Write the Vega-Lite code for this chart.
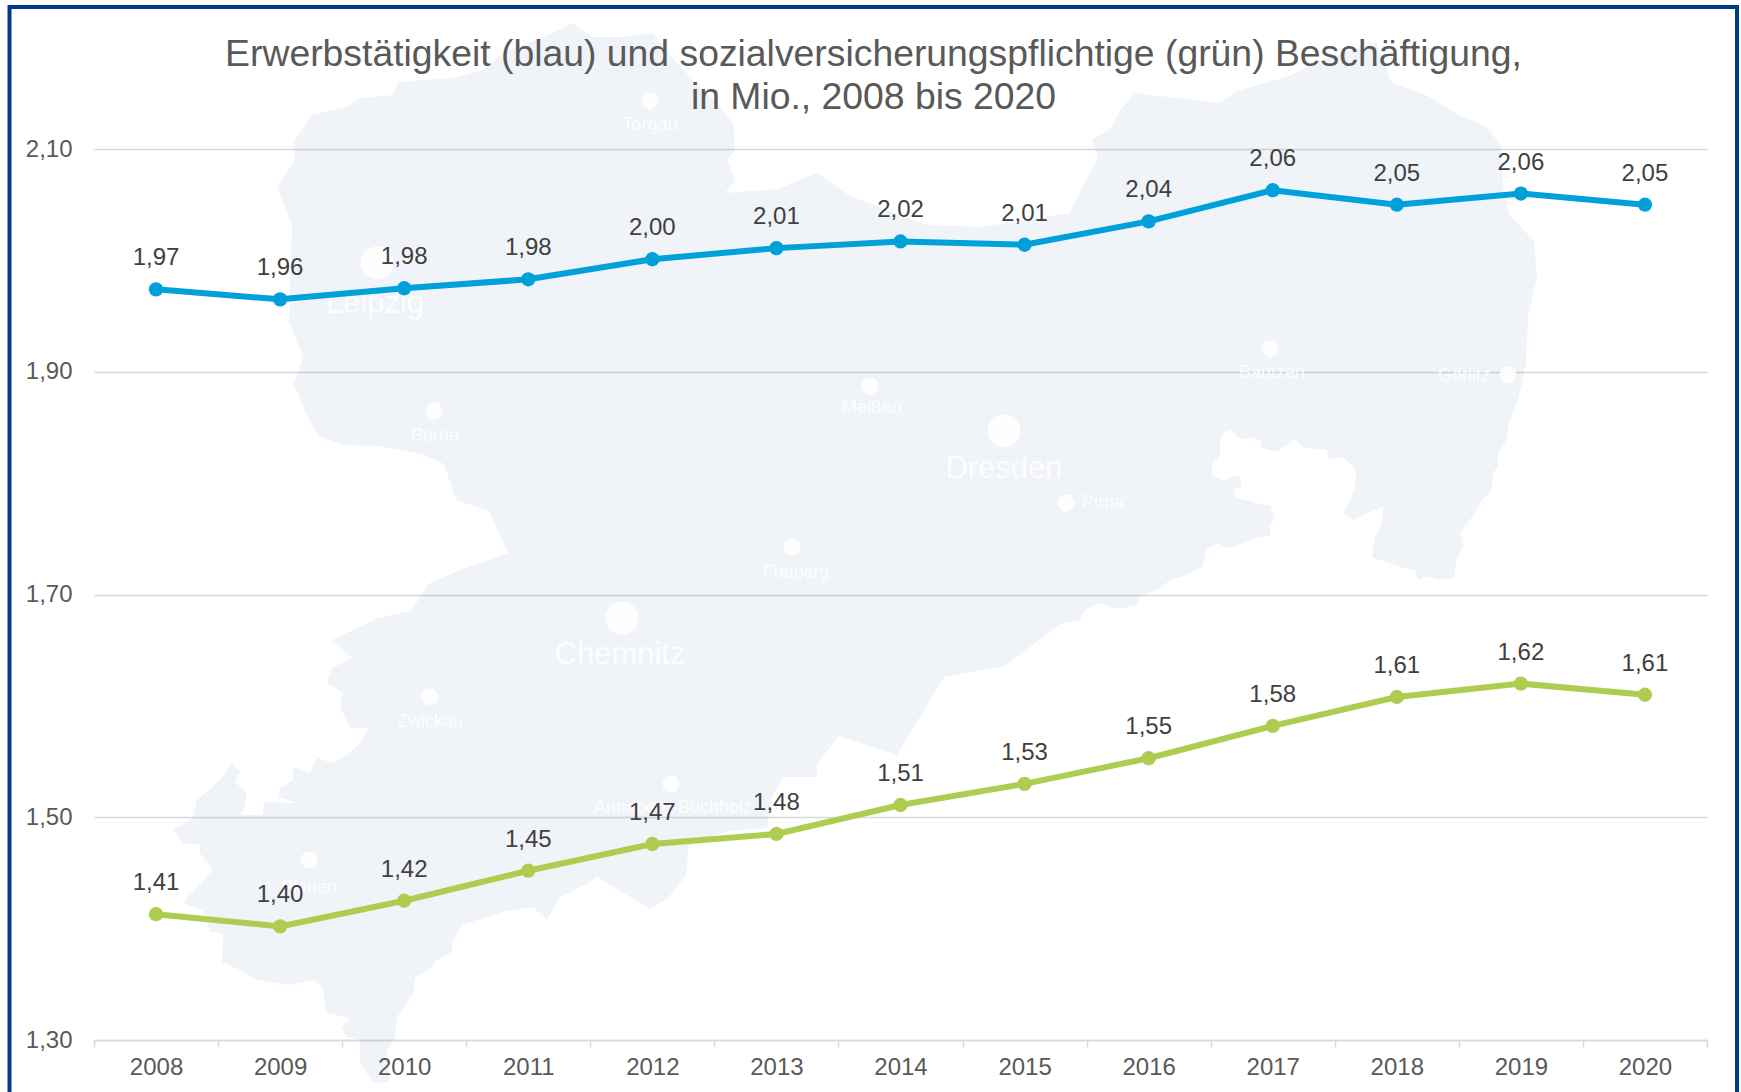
{"$schema":"https://vega.github.io/schema/vega-lite/v6.json","width":1613,"height":891,"autosize":{"type":"none"},"padding":{"left":94,"top":149,"right":34,"bottom":52},"background":"#ffffff","config":{"view":{"stroke":null},"font":"Liberation Sans"},"title":{"text":["Erwerbstätigkeit (blau) und sozialversicherungspflichtige (grün) Beschäftigung,","in Mio., 2008 bis 2020"],"font":"Liberation Sans","fontSize":37.35,"fontWeight":"normal","color":"#595959","lineHeight":43,"anchor":"middle","dx":-27,"dy":150,"offset":39},"datasets":{"umriss":[{"i":1,"mx":277,"my":187},{"i":2,"mx":295,"my":160},{"i":3,"mx":293,"my":143},{"i":4,"mx":312,"my":115},{"i":5,"mx":347,"my":107},{"i":6,"mx":360,"my":98},{"i":7,"mx":393,"my":95},{"i":8,"mx":398,"my":82},{"i":9,"mx":453,"my":78},{"i":10,"mx":483,"my":70},{"i":11,"mx":503,"my":53},{"i":12,"mx":553,"my":33},{"i":13,"mx":572,"my":23},{"i":14,"mx":593,"my":37},{"i":15,"mx":623,"my":37},{"i":16,"mx":653,"my":33},{"i":17,"mx":677,"my":63},{"i":18,"mx":690,"my":77},{"i":19,"mx":717,"my":103},{"i":20,"mx":733,"my":123},{"i":21,"mx":735,"my":150},{"i":22,"mx":727,"my":160},{"i":23,"mx":735,"my":180},{"i":24,"mx":725,"my":193},{"i":25,"mx":778,"my":189},{"i":26,"mx":817,"my":173},{"i":27,"mx":850,"my":196},{"i":28,"mx":871,"my":204},{"i":29,"mx":926,"my":225},{"i":30,"mx":981,"my":227},{"i":31,"mx":1070,"my":213},{"i":32,"mx":1081,"my":190},{"i":33,"mx":1098,"my":158},{"i":34,"mx":1092,"my":140},{"i":35,"mx":1109,"my":130},{"i":36,"mx":1120,"my":111},{"i":37,"mx":1134,"my":93},{"i":38,"mx":1220,"my":103},{"i":39,"mx":1237,"my":91},{"i":40,"mx":1292,"my":75},{"i":41,"mx":1314,"my":63},{"i":42,"mx":1376,"my":42},{"i":43,"mx":1392,"my":83},{"i":44,"mx":1426,"my":95},{"i":45,"mx":1459,"my":115},{"i":46,"mx":1487,"my":127},{"i":47,"mx":1501,"my":146},{"i":48,"mx":1503,"my":186},{"i":49,"mx":1509,"my":214},{"i":50,"mx":1534,"my":241},{"i":51,"mx":1537,"my":277},{"i":52,"mx":1528,"my":316},{"i":53,"mx":1526,"my":364},{"i":54,"mx":1518,"my":400},{"i":55,"mx":1510,"my":420},{"i":56,"mx":1505,"my":443},{"i":57,"mx":1498,"my":453},{"i":58,"mx":1498,"my":468},{"i":59,"mx":1493,"my":472},{"i":60,"mx":1492,"my":490},{"i":61,"mx":1482,"my":500},{"i":62,"mx":1472,"my":517},{"i":63,"mx":1460,"my":533},{"i":64,"mx":1463,"my":545},{"i":65,"mx":1457,"my":560},{"i":66,"mx":1454,"my":578},{"i":67,"mx":1438,"my":580},{"i":68,"mx":1428,"my":576},{"i":69,"mx":1418,"my":580},{"i":70,"mx":1415,"my":570},{"i":71,"mx":1403,"my":568},{"i":72,"mx":1390,"my":563},{"i":73,"mx":1372,"my":558},{"i":74,"mx":1375,"my":537},{"i":75,"mx":1382,"my":523},{"i":76,"mx":1383,"my":507},{"i":77,"mx":1370,"my":512},{"i":78,"mx":1353,"my":520},{"i":79,"mx":1343,"my":513},{"i":80,"mx":1350,"my":500},{"i":81,"mx":1356,"my":483},{"i":82,"mx":1356,"my":470},{"i":83,"mx":1343,"my":457},{"i":84,"mx":1328,"my":459},{"i":85,"mx":1327,"my":450},{"i":86,"mx":1302,"my":447},{"i":87,"mx":1295,"my":439},{"i":88,"mx":1287,"my":445},{"i":89,"mx":1277,"my":452},{"i":90,"mx":1262,"my":448},{"i":91,"mx":1260,"my":440},{"i":92,"mx":1250,"my":437},{"i":93,"mx":1242,"my":440},{"i":94,"mx":1230,"my":430},{"i":95,"mx":1223,"my":433},{"i":96,"mx":1220,"my":443},{"i":97,"mx":1220,"my":455},{"i":98,"mx":1212,"my":465},{"i":99,"mx":1212,"my":475},{"i":100,"mx":1223,"my":481},{"i":101,"mx":1233,"my":476},{"i":102,"mx":1241,"my":477},{"i":103,"mx":1241,"my":486},{"i":104,"mx":1233,"my":490},{"i":105,"mx":1237,"my":498},{"i":106,"mx":1250,"my":501},{"i":107,"mx":1262,"my":505},{"i":108,"mx":1270,"my":505},{"i":109,"mx":1275,"my":515},{"i":110,"mx":1270,"my":525},{"i":111,"mx":1270,"my":536},{"i":112,"mx":1255,"my":538},{"i":113,"mx":1237,"my":546},{"i":114,"mx":1227,"my":548},{"i":115,"mx":1218,"my":543},{"i":116,"mx":1206,"my":550},{"i":117,"mx":1202,"my":567},{"i":118,"mx":1187,"my":575},{"i":119,"mx":1170,"my":580},{"i":120,"mx":1160,"my":588},{"i":121,"mx":1140,"my":597},{"i":122,"mx":1137,"my":605},{"i":123,"mx":1118,"my":609},{"i":124,"mx":1100,"my":603},{"i":125,"mx":1085,"my":610},{"i":126,"mx":1080,"my":620},{"i":127,"mx":1060,"my":624},{"i":128,"mx":1005,"my":666},{"i":129,"mx":944,"my":677},{"i":130,"mx":897,"my":755},{"i":131,"mx":839,"my":736},{"i":132,"mx":817,"my":764},{"i":133,"mx":817,"my":777},{"i":134,"mx":783,"my":777},{"i":135,"mx":772,"my":797},{"i":136,"mx":767,"my":828},{"i":137,"mx":728,"my":831},{"i":138,"mx":689,"my":845},{"i":139,"mx":686,"my":876},{"i":140,"mx":667,"my":899},{"i":141,"mx":650,"my":909},{"i":142,"mx":597,"my":877},{"i":143,"mx":585,"my":885},{"i":144,"mx":560,"my":897},{"i":145,"mx":547,"my":920},{"i":146,"mx":533,"my":907},{"i":147,"mx":503,"my":912},{"i":148,"mx":487,"my":917},{"i":149,"mx":462,"my":925},{"i":150,"mx":452,"my":942},{"i":151,"mx":452,"my":952},{"i":152,"mx":437,"my":960},{"i":153,"mx":428,"my":970},{"i":154,"mx":415,"my":978},{"i":155,"mx":413,"my":993},{"i":156,"mx":397,"my":1017},{"i":157,"mx":395,"my":1037},{"i":158,"mx":387,"my":1050},{"i":159,"mx":389,"my":1082},{"i":160,"mx":373,"my":1083},{"i":161,"mx":360,"my":1063},{"i":162,"mx":360,"my":1040},{"i":163,"mx":347,"my":1037},{"i":164,"mx":342,"my":1027},{"i":165,"mx":350,"my":1018},{"i":166,"mx":327,"my":1013},{"i":167,"mx":322,"my":987},{"i":168,"mx":313,"my":980},{"i":169,"mx":290,"my":985},{"i":170,"mx":257,"my":980},{"i":171,"mx":240,"my":970},{"i":172,"mx":222,"my":962},{"i":173,"mx":223,"my":933},{"i":174,"mx":210,"my":932},{"i":175,"mx":203,"my":910},{"i":176,"mx":183,"my":903},{"i":177,"mx":197,"my":887},{"i":178,"mx":213,"my":870},{"i":179,"mx":200,"my":853},{"i":180,"mx":200,"my":845},{"i":181,"mx":183,"my":843},{"i":182,"mx":173,"my":830},{"i":183,"mx":193,"my":818},{"i":184,"mx":197,"my":800},{"i":185,"mx":212,"my":787},{"i":186,"mx":222,"my":777},{"i":187,"mx":232,"my":763},{"i":188,"mx":240,"my":772},{"i":189,"mx":235,"my":782},{"i":190,"mx":247,"my":793},{"i":191,"mx":242,"my":815},{"i":192,"mx":262,"my":815},{"i":193,"mx":265,"my":802},{"i":194,"mx":298,"my":803},{"i":195,"mx":278,"my":797},{"i":196,"mx":280,"my":788},{"i":197,"mx":293,"my":780},{"i":198,"mx":293,"my":767},{"i":199,"mx":310,"my":773},{"i":200,"mx":317,"my":758},{"i":201,"mx":332,"my":763},{"i":202,"mx":347,"my":755},{"i":203,"mx":360,"my":743},{"i":204,"mx":368,"my":728},{"i":205,"mx":350,"my":728},{"i":206,"mx":340,"my":707},{"i":207,"mx":343,"my":693},{"i":208,"mx":327,"my":683},{"i":209,"mx":332,"my":668},{"i":210,"mx":352,"my":658},{"i":211,"mx":332,"my":640},{"i":212,"mx":378,"my":618},{"i":213,"mx":411,"my":611},{"i":214,"mx":422,"my":594},{"i":215,"mx":428,"my":584},{"i":216,"mx":455,"my":572},{"i":217,"mx":508,"my":553},{"i":218,"mx":494,"my":522},{"i":219,"mx":489,"my":511},{"i":220,"mx":456,"my":500},{"i":221,"mx":444,"my":464},{"i":222,"mx":422,"my":454},{"i":223,"mx":378,"my":446},{"i":224,"mx":344,"my":445},{"i":225,"mx":319,"my":436},{"i":226,"mx":306,"my":414},{"i":227,"mx":294,"my":384},{"i":228,"mx":303,"my":357},{"i":229,"mx":289,"my":321},{"i":230,"mx":292,"my":225}],"staedte":[{"name":"Torgau","gross":false,"px":650,"py":101,"lx":650,"ly":125},{"name":"Leipzig","gross":true,"px":377,"py":263,"lx":375,"ly":304},{"name":"Borna","gross":false,"px":434,"py":411,"lx":435,"ly":436},{"name":"Meißen","gross":false,"px":870,"py":386,"lx":872,"ly":408},{"name":"Bautzen","gross":false,"px":1270,"py":349,"lx":1272,"ly":373},{"name":"Görlitz","gross":false,"px":1508,"py":375,"lx":1464,"ly":376},{"name":"Dresden","gross":true,"px":1004,"py":431,"lx":1004,"ly":469},{"name":"Pirna","gross":false,"px":1066,"py":503,"lx":1103,"ly":503},{"name":"Freiberg","gross":false,"px":792,"py":547,"lx":796,"ly":573},{"name":"Chemnitz","gross":true,"px":622,"py":618,"lx":620,"ly":655},{"name":"Zwickau","gross":false,"px":430,"py":697,"lx":430,"ly":722},{"name":"Annaberg-Buchholz","gross":false,"px":671,"py":784,"lx":673,"ly":808},{"name":"Plauen","gross":false,"px":309,"py":860,"lx":309,"ly":888}],"rahmen":[{"x1":9.5,"x2":1737,"y1":7,"y2":1120}],"reihen":[{"jahr":"2008","reihe":"Erwerbstätige","wert":1.974,"label":"1,97"},{"jahr":"2009","reihe":"Erwerbstätige","wert":1.965,"label":"1,96"},{"jahr":"2010","reihe":"Erwerbstätige","wert":1.975,"label":"1,98"},{"jahr":"2011","reihe":"Erwerbstätige","wert":1.983,"label":"1,98"},{"jahr":"2012","reihe":"Erwerbstätige","wert":2.001,"label":"2,00"},{"jahr":"2013","reihe":"Erwerbstätige","wert":2.011,"label":"2,01"},{"jahr":"2014","reihe":"Erwerbstätige","wert":2.017,"label":"2,02"},{"jahr":"2015","reihe":"Erwerbstätige","wert":2.014,"label":"2,01"},{"jahr":"2016","reihe":"Erwerbstätige","wert":2.035,"label":"2,04"},{"jahr":"2017","reihe":"Erwerbstätige","wert":2.063,"label":"2,06"},{"jahr":"2018","reihe":"Erwerbstätige","wert":2.05,"label":"2,05"},{"jahr":"2019","reihe":"Erwerbstätige","wert":2.06,"label":"2,06"},{"jahr":"2020","reihe":"Erwerbstätige","wert":2.05,"label":"2,05"},{"jahr":"2008","reihe":"SV-Beschäftigte","wert":1.413,"label":"1,41"},{"jahr":"2009","reihe":"SV-Beschäftigte","wert":1.402,"label":"1,40"},{"jahr":"2010","reihe":"SV-Beschäftigte","wert":1.425,"label":"1,42"},{"jahr":"2011","reihe":"SV-Beschäftigte","wert":1.452,"label":"1,45"},{"jahr":"2012","reihe":"SV-Beschäftigte","wert":1.476,"label":"1,47"},{"jahr":"2013","reihe":"SV-Beschäftigte","wert":1.485,"label":"1,48"},{"jahr":"2014","reihe":"SV-Beschäftigte","wert":1.511,"label":"1,51"},{"jahr":"2015","reihe":"SV-Beschäftigte","wert":1.53,"label":"1,53"},{"jahr":"2016","reihe":"SV-Beschäftigte","wert":1.553,"label":"1,55"},{"jahr":"2017","reihe":"SV-Beschäftigte","wert":1.582,"label":"1,58"},{"jahr":"2018","reihe":"SV-Beschäftigte","wert":1.608,"label":"1,61"},{"jahr":"2019","reihe":"SV-Beschäftigte","wert":1.62,"label":"1,62"},{"jahr":"2020","reihe":"SV-Beschäftigte","wert":1.61,"label":"1,61"}]},"resolve":{"scale":{"x":"independent","y":"independent"}},"layer":[{"encoding":{"x":{"type":"quantitative","scale":{"domain":[94,1707],"range":[0,1613],"nice":false,"zero":false},"axis":null},"y":{"type":"quantitative","scale":{"domain":[149,1040],"range":[0,891],"nice":false,"zero":false},"axis":null}},"layer":[{"data":{"name":"umriss"},"mark":{"type":"line","fill":"#2c5a9e","fillOpacity":0.07,"strokeWidth":0,"clip":false},"encoding":{"x":{"field":"mx","type":"quantitative"},"y":{"field":"my","type":"quantitative"},"order":{"field":"i","type":"quantitative"}}},{"data":{"name":"staedte"},"transform":[{"filter":"datum.gross"}],"mark":{"type":"circle","size":1075,"color":"#ffffff","opacity":0.9},"encoding":{"x":{"field":"px","type":"quantitative"},"y":{"field":"py","type":"quantitative"}}},{"data":{"name":"staedte"},"transform":[{"filter":"!datum.gross"}],"mark":{"type":"circle","size":283,"color":"#ffffff","opacity":0.9},"encoding":{"x":{"field":"px","type":"quantitative"},"y":{"field":"py","type":"quantitative"}}},{"data":{"name":"staedte"},"transform":[{"filter":"datum.gross"}],"mark":{"type":"text","fontSize":31,"color":"#ffffff","opacity":0.9,"font":"Liberation Sans"},"encoding":{"x":{"field":"lx","type":"quantitative"},"y":{"field":"ly","type":"quantitative"},"text":{"field":"name"}}},{"data":{"name":"staedte"},"transform":[{"filter":"!datum.gross"}],"mark":{"type":"text","fontSize":18,"color":"#ffffff","opacity":0.9,"font":"Liberation Sans"},"encoding":{"x":{"field":"lx","type":"quantitative"},"y":{"field":"ly","type":"quantitative"},"text":{"field":"name"}}},{"data":{"name":"rahmen"},"mark":{"type":"rect","fillOpacity":0,"stroke":"#003b8e","strokeWidth":4,"clip":false},"encoding":{"x":{"field":"x1","type":"quantitative"},"x2":{"field":"x2"},"y":{"field":"y1","type":"quantitative"},"y2":{"field":"y2"}}}]},{"data":{"name":"reihen"},"encoding":{"x":{"field":"jahr","type":"ordinal","title":null,"scale":{"type":"band","paddingInner":0,"paddingOuter":0},"axis":{"labelAngle":0,"tickBand":"extent","domainColor":"#d9d9d9","domainWidth":1.5,"tickColor":"#d9d9d9","tickWidth":1.5,"tickSize":7,"labelFont":"Liberation Sans","labelFontSize":24,"labelColor":"#595959","labelPadding":8,"grid":false}},"y":{"field":"wert","type":"quantitative","title":null,"scale":{"domain":[1.3,2.1],"nice":false,"zero":false},"axis":{"values":[1.3,1.5,1.7,1.9,2.1],"labelExpr":"replace(format(datum.value,'.2f'),'.',',')","domain":false,"ticks":false,"grid":true,"gridColor":"#d9d9d9","gridWidth":1.5,"labelFont":"Liberation Sans","labelFontSize":24,"labelColor":"#595959","labelPadding":22}},"color":{"field":"reihe","type":"nominal","legend":null,"scale":{"domain":["Erwerbstätige","SV-Beschäftigte"],"range":["#00a0d8","#aecd50"]}}},"layer":[{"mark":{"type":"line","strokeWidth":6}},{"mark":{"type":"circle","size":205,"opacity":1}},{"mark":{"type":"text","dy":-31,"fontSize":24,"font":"Liberation Sans","color":"#404040"},"encoding":{"text":{"field":"label"},"color":{"value":"#404040"}}}]}]}
